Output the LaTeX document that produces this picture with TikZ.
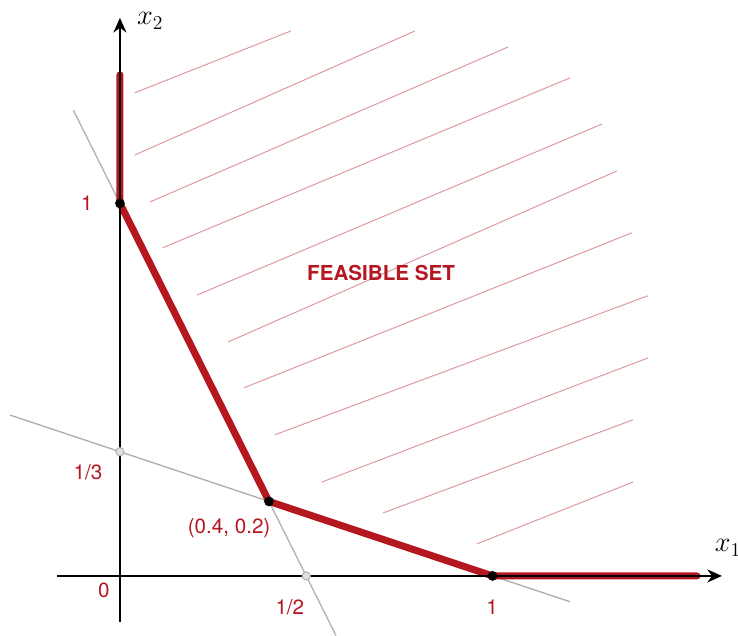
\documentclass[tikz,border=0pt]{standalone}
\usepackage{fontspec}
\setsansfont{TeX Gyre Heros}
\usetikzlibrary{arrows.meta}

\definecolor{featred}{RGB}{181,23,33}
\definecolor{cutgray}{RGB}{175,175,175}

\tikzset{
  axis/.style={line width=1pt, -{Stealth[length=9pt,width=8pt,inset=3pt]}},
  cut/.style={line width=0.8pt, cutgray},
  bound/.style={line width=4.3pt, featred, line cap=round, line join=round},
  hatch/.style={line width=0.6pt, featred!45},
  lbl/.style={featred, font=\sffamily\fontsize{12.6}{14}\selectfont, inner sep=0pt},
  axlbl/.style={font=\fontsize{18}{20}\selectfont, inner sep=0pt}
}

\begin{document}
\begin{tikzpicture}[x=8cm, y=8cm]

\useasboundingbox (-0.322,-0.161) rectangle (1.659,1.546);

%% corners
\coordinate (O)  at (0,0);
\coordinate (A)  at (0,1);
\coordinate (B)  at (0.4,0.2);
\coordinate (C)  at (1,0);
\coordinate (P)  at (0,1/3);
\coordinate (Q)  at (1/2,0);
\coordinate (Atop) at (0,1.345);
\coordinate (Cend) at (1.549,0);

%% hatching of the feasible set
\foreach \xa/\ya/\xb/\yb in {0.040/1.297/0.459/1.463, 0.040/1.130/0.792/1.463,
    0.081/1.004/1.042/1.420, 0.115/0.881/1.208/1.337, 0.207/0.754/1.294/1.213,
    0.290/0.628/1.334/1.087, 0.333/0.505/1.374/0.921, 0.416/0.379/1.417/0.752,
    0.542/0.252/1.417/0.585, 0.706/0.169/1.377/0.419, 0.958/0.086/1.377/0.252}
  \draw[hatch] (\xa,\ya) -- (\xb,\yb);

%% constraint lines
\draw[cut] (-0.125,1.25) -- (0.58,-0.16);    %% 2x1 + x2 = 1
\draw[cut] (-0.295,0.4317) -- (1.208,-0.0693); %% x1 + 3x2 = 1

%% boundary of the feasible set
\draw[bound] (Atop) -- (A) -- (B) -- (C) -- (Cend);

%% axes
\draw[axis] (-0.169,0) -- (1.616,0);
\draw[axis] (0,-0.123) -- (0,1.498);
\node[axlbl] (x1) at (1.632,0.075) {$x_1$};
\node[axlbl] (x2) at (0.081,1.490) {$x_2$};

%% points
\fill[black] (A) circle (3pt);
\fill[black] (B) circle (3pt);
\fill[black] (C) circle (3pt);
\draw[cutgray, fill=black!12, line width=0.6pt] (P) circle (2.5pt);
\draw[cutgray, fill=black!12, line width=0.6pt] (Q) circle (2.5pt);

%% labels
\node[lbl] (lone2)  at (-0.089,1.0)   {1};
\node[lbl] (lthird) at (-0.086,0.279) {1/3};
\node[lbl] (lzero)  at (-0.043,-0.040) {0};
\node[lbl] (lhalf)  at (0.456,-0.083) {1/2};
\node[lbl] (lone1)  at (0.999,-0.083) {1};
\node[lbl] (lvert)  at (0.293,0.129)  {(0.4, 0.2)};
\node[lbl, font=\sffamily\bfseries\fontsize{12.6}{14}\selectfont] (lfeas) at (0.701,0.813) {FEASIBLE SET};

\end{tikzpicture}
\end{document}
